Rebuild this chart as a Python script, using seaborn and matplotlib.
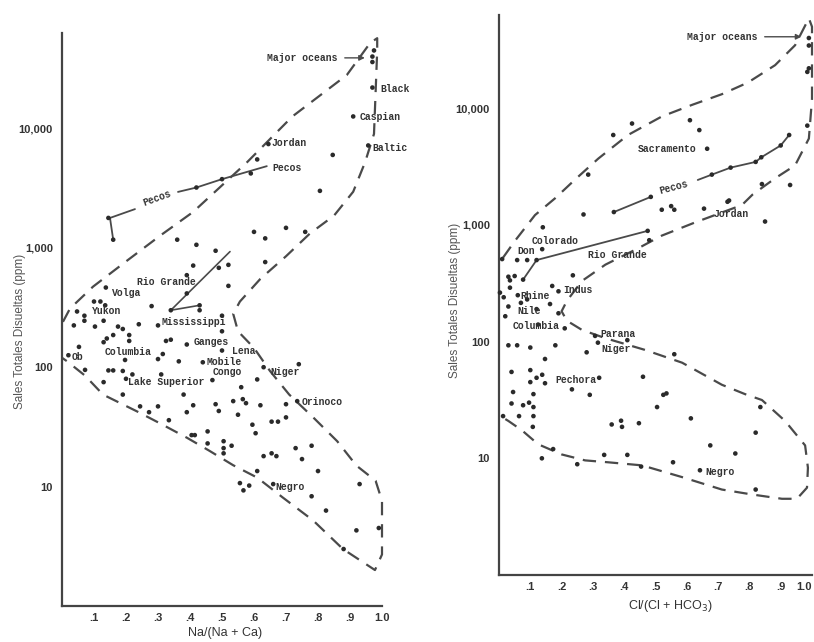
import matplotlib
matplotlib.use("Agg")
import matplotlib.pyplot as plt
import seaborn as sns
import pandas as pd
from matplotlib.ticker import FixedLocator, NullFormatter

# ---------------- data: left panel Na/(Na+Ca) ----------------
na_x = [0.97, 0.975, 0.97, 0.97, 0.91, 0.957, 0.645, 0.846, 0.61, 0.59, 0.806,
        0.145, 0.16, 0.42, 0.50,
        0.36, 0.42, 0.48, 0.60, 0.635, 0.70, 0.76,
        0.41, 0.49, 0.52, 0.635, 0.52, 0.39, 0.39, 0.43, 0.43, 0.34,
        0.28, 0.137, 0.10, 0.12, 0.135, 0.047, 0.07, 0.07, 0.037, 0.103, 0.13,
        0.175, 0.19, 0.24, 0.30, 0.50, 0.50,
        0.14, 0.16, 0.21, 0.21, 0.13, 0.325, 0.34, 0.39, 0.053, 0.50, 0.02,
        0.30, 0.315, 0.197, 0.365, 0.44, 0.63, 0.74, 0.072, 0.145, 0.16, 0.19,
        0.22, 0.31, 0.47, 0.61, 0.13, 0.56, 0.38, 0.19, 0.20,
        0.244, 0.272, 0.30, 0.334, 0.39, 0.41, 0.48, 0.49, 0.535, 0.565, 0.575,
        0.55, 0.62, 0.70, 0.735, 0.595, 0.605, 0.655, 0.675, 0.70,
        0.405, 0.415, 0.455, 0.455, 0.505, 0.505, 0.505, 0.53, 0.63, 0.655, 0.67,
        0.73, 0.78, 0.75, 0.80, 0.61, 0.556, 0.585, 0.567, 0.66, 0.78, 0.93,
        0.825, 0.92, 0.99, 0.88]
na_tds = [40000, 45000, 36000, 22000, 12600, 7200, 7400, 6000, 5500, 4200, 3000,
          1780, 1170, 3200, 3760,
          1170, 1060, 945, 1360, 1200, 1470, 1360,
          710, 680, 720, 760, 480, 590, 415, 330, 300, 300,
          325, 465, 355, 355, 330, 293, 270, 245, 224, 219, 245,
          219, 209, 229, 224, 270, 200,
          174, 186, 186, 166, 162, 166, 170, 155, 148, 138, 126,
          117, 129, 115, 112, 110, 100, 106, 95, 94, 94, 93,
          87, 87, 78, 79, 75, 68, 59, 59, 80,
          47, 42, 47, 36, 42, 48, 49, 43, 52, 54, 50,
          40, 48, 49, 52, 33, 28, 35, 35, 38,
          27, 27, 29, 23, 24, 21, 19, 22, 18, 19, 18,
          21, 22, 17, 13.5, 13.5, 10.7, 10.2, 9.3, 10.5, 8.3, 10.5,
          6.3, 4.3, 4.5, 3.0]

# envelope (dashed boundary), left panel
na_env_x = [0.003, 0.025, 0.097, 0.203, 0.306, 0.41, 0.578, 0.72, 0.89, 0.963, 0.985,
            0.985, 0.98, 0.975, 0.947, 0.91, 0.85, 0.775, 0.70, 0.62, 0.556, 0.535,
            0.55, 0.60, 0.65, 0.71, 0.785, 0.86, 0.92, 0.98, 1.0, 1.0, 1.0, 0.978,
            0.878, 0.785, 0.69, 0.61, 0.535, 0.46, 0.39, 0.306, 0.234, 0.128,
            0.072, 0.016, 0.0]
na_env_y = [240, 310, 473, 780, 1260, 2000, 5200, 12600, 28000, 52000, 57000,
            45000, 20000, 9000, 5200, 2950, 1860, 1320, 850, 550, 355, 280,
            200, 145, 93, 59, 38, 24, 15, 11.2, 7.6, 4.6, 2.7, 2.0,
            3.0, 5.2, 8.1, 11.9, 15.1, 20, 25.7, 33.9, 42.7, 59,
            85, 112, 120]

na_pecos_x = [0.16, 0.15, 0.228]
na_pecos_y = [1170, 1780, 2110]
na_pecos2_x = [0.3625, 0.42, 0.50, 0.64]
na_pecos2_y = [2940, 3200, 3760, 4830]
na_rio_x = [0.525, 0.34, 0.43]
na_rio_y = [930, 300, 330]

na_labels = ["Major oceans", "Black", "Caspian", "Baltic", "Jordan", "Pecos",
             "Volga", "Rio Grande", "Yukon", "Mississippi", "Ganges", "Columbia",
             "Lena", "Ob", "Mobile", "Congo", "Niger", "Lake Superior",
             "Orinoco", "Negro"]
na_lab_x = [0.64, 0.995, 0.93, 0.97, 0.656, 0.656,
            0.156, 0.234, 0.094, 0.3125, 0.41, 0.134,
            0.53, 0.031, 0.453, 0.47, 0.65, 0.206,
            0.75, 0.666]
na_lab_y = [39000, 21500, 12400, 6800, 7500, 4640,
            420, 520, 293, 241, 162, 133,
            136, 121, 110, 91, 91, 75,
            51, 10]

# ---------------- data: right panel Cl/(Cl+HCO3) ----------------
cl_x = [0.99, 0.99, 0.99, 0.985, 0.985,
        0.365, 0.425, 0.61, 0.64, 0.665, 0.285,
        0.367, 0.485, 0.68, 0.74, 0.82, 0.838, 0.9, 0.927,
        0.93, 0.84, 0.735, 0.52, 0.55, 0.56, 0.655, 0.73, 0.85, 0.27, 0.14,
        0.077, 0.12, 0.475, 0.48,
        0.138, 0.058, 0.09, 0.01, 0.236, 0.03, 0.05, 0.035, 0.003, 0.17, 0.19,
        0.035, 0.015, 0.06, 0.09, 0.03, 0.163, 0.12, 0.07,
        0.02, 0.125, 0.19, 0.21, 0.307, 0.41, 0.316,
        0.56, 0.28, 0.18, 0.10, 0.058, 0.03, 0.147, 0.04,
        0.10, 0.12, 0.138, 0.10, 0.147, 0.32, 0.46, 0.233, 0.045, 0.29, 0.535, 0.525,
        0.04, 0.064, 0.077, 0.096, 0.11, 0.11, 0.11, 0.108, 0.013,
        0.505, 0.36, 0.39, 0.393, 0.447, 0.613, 0.675, 0.82, 0.755, 0.835,
        0.137, 0.173, 0.25, 0.336, 0.41, 0.454, 0.556, 0.642, 0.82]
cl_tds = [40000, 34500, 22000, 20500, 7100,
          5900, 7400, 7900, 6500, 4500, 2700,
          1290, 1740, 2700, 3100, 3470, 3800, 4800, 5900,
          2200, 2240, 1620, 1350, 1450, 1350, 1380, 1580, 1070, 1230, 955,
          340, 500, 890, 740,
          620, 500, 500, 510, 370, 360, 365, 335, 263, 300, 270,
          290, 240, 250, 230, 200, 210, 190, 215,
          165, 140, 175, 130, 112, 103, 98,
          78, 81, 93, 89, 93, 93, 71, 55,
          57, 49, 52, 45, 44, 49, 50, 39, 37, 35, 36, 35,
          29.5, 23, 28.5, 30, 35.5, 27.5, 23, 18.6, 23,
          27.5, 19.5, 21, 18.6, 20, 22, 12.9, 16.6, 11, 27.5,
          10, 12, 8.9, 10.7, 10.7, 8.5, 9.25, 7.9, 5.4]

cl_env_x = [0.013, 0.05, 0.115, 0.18, 0.243, 0.317, 0.412, 0.52, 0.617, 0.712,
            0.795, 0.882, 0.946, 0.99, 1.0, 1.0, 0.99, 0.946, 0.882, 0.81, 0.776,
            0.626, 0.52, 0.444, 0.34, 0.265, 0.217, 0.20, 0.217, 0.265, 0.34,
            0.466, 0.585, 0.712, 0.786, 0.84, 0.914, 0.978, 0.987, 0.984, 0.952,
            0.904, 0.808, 0.712, 0.585, 0.457, 0.348, 0.275, 0.20, 0.125, 0.073,
            0.03, 0.0]
cl_env_y = [525, 725, 1215, 1700, 2450, 3700, 5900, 8500, 10700, 13200,
            16600, 23400, 34700, 59000, 50000, 12000, 5500, 3240, 2510, 1820, 1480,
            1050, 810, 630, 457, 331, 224, 182, 151, 126, 107,
            85, 66, 42.7, 35.5, 31.6, 20.9, 12.9, 8.3, 5.6, 4.5,
            4.5, 4.9, 5.4, 6.9, 8.7, 9.25, 9.6, 10.8, 13.2, 17.4,
            20.9, 23.4]

cl_pecos_x = [0.367, 0.485]
cl_pecos_y = [1290, 1740]
cl_pecos2_x = [0.635, 0.68, 0.74, 0.82, 0.838, 0.9, 0.927]
cl_pecos2_y = [2430, 2700, 3100, 3470, 3800, 4800, 5900]
cl_rio_x = [0.077, 0.12, 0.475]
cl_rio_y = [340, 500, 890]

cl_labels = ["Major oceans", "Sacramento", "Jordan", "Colorado", "Don",
             "Rio Grande", "Indus", "Rhine", "Nile", "Columbia", "Parana",
             "Niger", "Pechora", "Negro"]
cl_lab_x = [0.60, 0.444, 0.684, 0.105, 0.06, 0.284, 0.204, 0.067, 0.06,
            0.042, 0.323, 0.326, 0.18, 0.658]
cl_lab_y = [41000, 4470, 1230, 730, 600, 555, 275, 246, 184, 135, 117,
            87, 47, 7.7]

y_ticks = [10, 100, 1000, 10000]
y_ticklabels = ["10", "100", "1,000", "10,000"]
x_ticks = [0.1, 0.2, 0.3, 0.4, 0.5, 0.6, 0.7, 0.8, 0.9, 1.0]
x_ticklabels = [".1", ".2", ".3", ".4", ".5", ".6", ".7", ".8", ".9", "1.0"]

# ---------------- drawing ----------------
sns.set_style("white")
plt.rcParams["font.family"] = ["Liberation Sans", "DejaVu Sans"]

fig = plt.figure(figsize=(8.14, 6.42), dpi=100)
axL = fig.add_axes([62 / 814, 36 / 642, 320 / 814, 573 / 642])
axR = fig.add_axes([499 / 814, 67 / 642, 313 / 814, 560 / 642])

INK = "#2a2a2a"
LINE = "#4a4a4a"
mono = dict(family=["Liberation Mono", "DejaVu Sans Mono"], fontsize=7,
            color="#333333", fontweight="bold")


def setup(ax):
    ax.set_yscale("log")
    ax.set_xlim(0, 1.0)
    ax.set_ylim(1, 63000)
    for s in ["top", "right"]:
        ax.spines[s].set_visible(False)
    for s in ["left", "bottom"]:
        ax.spines[s].set_color("#444444")
        ax.spines[s].set_linewidth(1.6)
    ax.yaxis.set_major_locator(FixedLocator(y_ticks))
    ax.set_yticklabels(y_ticklabels)
    minors = [m * 10 ** e for e in range(0, 5) for m in range(2, 10)]
    ax.yaxis.set_minor_locator(FixedLocator([v for v in minors if v < 63000]))
    ax.yaxis.set_minor_formatter(NullFormatter())
    ax.set_xticks(x_ticks)
    ax.set_xticklabels(x_ticklabels)
    ax.tick_params(axis="y", which="major", direction="inout", length=11,
                   width=1.4, color="#444444", labelsize=8, pad=1)
    ax.tick_params(axis="y", which="minor", direction="in", length=6,
                   width=1.2, color="#444444")
    ax.tick_params(axis="x", which="major", direction="in", length=8,
                   width=1.6, color="#444444", labelsize=8, pad=5)
    for lab in ax.get_xticklabels() + ax.get_yticklabels():
        lab.set_fontweight("bold")
        lab.set_color("#333333")
    ax.set_ylabel("Sales Totales Disueltas (ppm)", fontsize=8.5, color="#555555")


for ax, xs, ys, ex, ey in [(axL, na_x, na_tds, na_env_x, na_env_y),
                           (axR, cl_x, cl_tds, cl_env_x, cl_env_y)]:
    ax.plot(ex, ey, linestyle=(0, (6, 4)), color=LINE, lw=1.6, clip_on=False)
    sns.scatterplot(x=xs, y=ys, ax=ax, s=11, color=INK, edgecolor="none",
                    linewidth=0, clip_on=False, zorder=3)
    setup(ax)

# keep the last tick label of the right panel inside the figure
axR.get_xticklabels()[-1].set_ha("right")

# leader lines
axL.plot(na_pecos_x, na_pecos_y, color=LINE, lw=1.3)
axL.plot(na_pecos2_x, na_pecos2_y, color=LINE, lw=1.3)
axL.plot(na_rio_x, na_rio_y, color=LINE, lw=1.2)
axL.annotate("", xy=(0.955, 39000), xytext=(0.875, 39000),
             arrowprops=dict(arrowstyle="-|>", color=LINE, lw=1.0, mutation_scale=8))
axL.text(0.297, 2600, "Pecos", rotation=20, ha="center", va="center", **mono)

axR.plot(cl_pecos_x, cl_pecos_y, color=LINE, lw=1.3)
axR.plot(cl_pecos2_x, cl_pecos2_y, color=LINE, lw=1.3)
axR.plot(cl_rio_x, cl_rio_y, color=LINE, lw=1.3)
axR.annotate("", xy=(0.975, 41000), xytext=(0.84, 41000),
             arrowprops=dict(arrowstyle="-|>", color=LINE, lw=1.0, mutation_scale=8))
axR.text(0.56, 2100, "Pecos", rotation=15, ha="center", va="center", **mono)

for t, x, y in zip(na_labels, na_lab_x, na_lab_y):
    axL.text(x, y, t, ha="left", va="center", **mono)
for t, x, y in zip(cl_labels, cl_lab_x, cl_lab_y):
    axR.text(x, y, t, ha="left", va="center", **mono)

axL.set_xlabel("Na/(Na + Ca)", fontsize=9, color="#333333")
axR.set_xlabel("Cl/(Cl + HCO$_3$)", fontsize=9, color="#333333")
axL.xaxis.set_label_coords(0.51, -0.047)
axR.xaxis.set_label_coords(0.546, -0.055)
for ax in (axL, axR):
    ax.xaxis.label.set_va("center")
    ax.yaxis.label.set_va("center")
axL.yaxis.set_label_coords(-0.131, 0.48)
axR.yaxis.set_label_coords(-0.14, 0.49)

fig.savefig("out.png", dpi=100)
